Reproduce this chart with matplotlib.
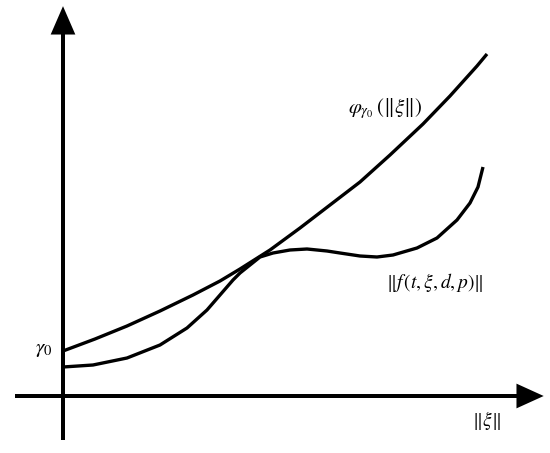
import matplotlib
matplotlib.use("Agg")
import matplotlib.pyplot as plt

plt.rcParams["mathtext.fontset"] = "stix"
plt.rcParams["font.family"] = ["STIXGeneral", "DejaVu Serif"]

# 上方曲线 phi_{gamma0}(||xi||)
phi_x = [0, 32, 64, 97, 130, 157, 177, 207, 237, 267, 297, 327, 360, 387, 414, 424]
phi_y = [45, 57, 70, 85, 101, 115, 127, 146, 168, 191, 214, 241, 272, 300, 330, 342]

# 下方曲线 ||f(t, xi, d, p)||
f_x = [0, 30, 64, 97, 124, 144, 157, 170, 177, 197, 210, 227, 244, 264, 277,
       297, 314, 330, 354, 374, 394, 407, 415, 420]
f_y = [29, 31, 38, 51, 68, 86, 101, 116, 123, 139, 143, 146, 147, 145, 143,
       140, 139, 141, 148, 158, 176, 193, 209, 229]

LW = 2.4

fig = plt.figure(figsize=(5.5, 4.53), dpi=100)
ax = fig.add_axes([0, 0, 1, 1])
ax.set_xlim(-63, 487)
ax.set_ylim(-57, 396)
ax.axis("off")

# 坐标轴（带箭头）
ax.arrow(0, -44, 0, 430, width=0, head_width=20, head_length=23,
         length_includes_head=True, fc="black", ec="black", lw=2.2)
ax.arrow(-48, 0, 525, 0, width=0, head_width=20, head_length=22,
         length_includes_head=True, fc="black", ec="black", lw=2.2)

ax.plot(phi_x, phi_y, color="black", lw=LW, solid_capstyle="butt",
        solid_joinstyle="round")
ax.plot(f_x, f_y, color="black", lw=LW, solid_capstyle="butt",
        solid_joinstyle="round")

fs = 14
ax.text(-19, 47, r"$\gamma_0$", fontsize=fs + 1, ha="center", va="center")
ax.text(322, 287, r"$\varphi_{\gamma_0}\,(\Vert\xi\Vert)$", fontsize=fs + 1,
        ha="center", va="center")
ax.text(372, 114, r"$\Vert f\,(t,\xi,d,p)\Vert$", fontsize=fs,
        ha="center", va="center")
ax.text(423, -25, r"$\Vert\xi\Vert$", fontsize=fs, ha="center", va="center")

fig.savefig("out.png", dpi=100)
